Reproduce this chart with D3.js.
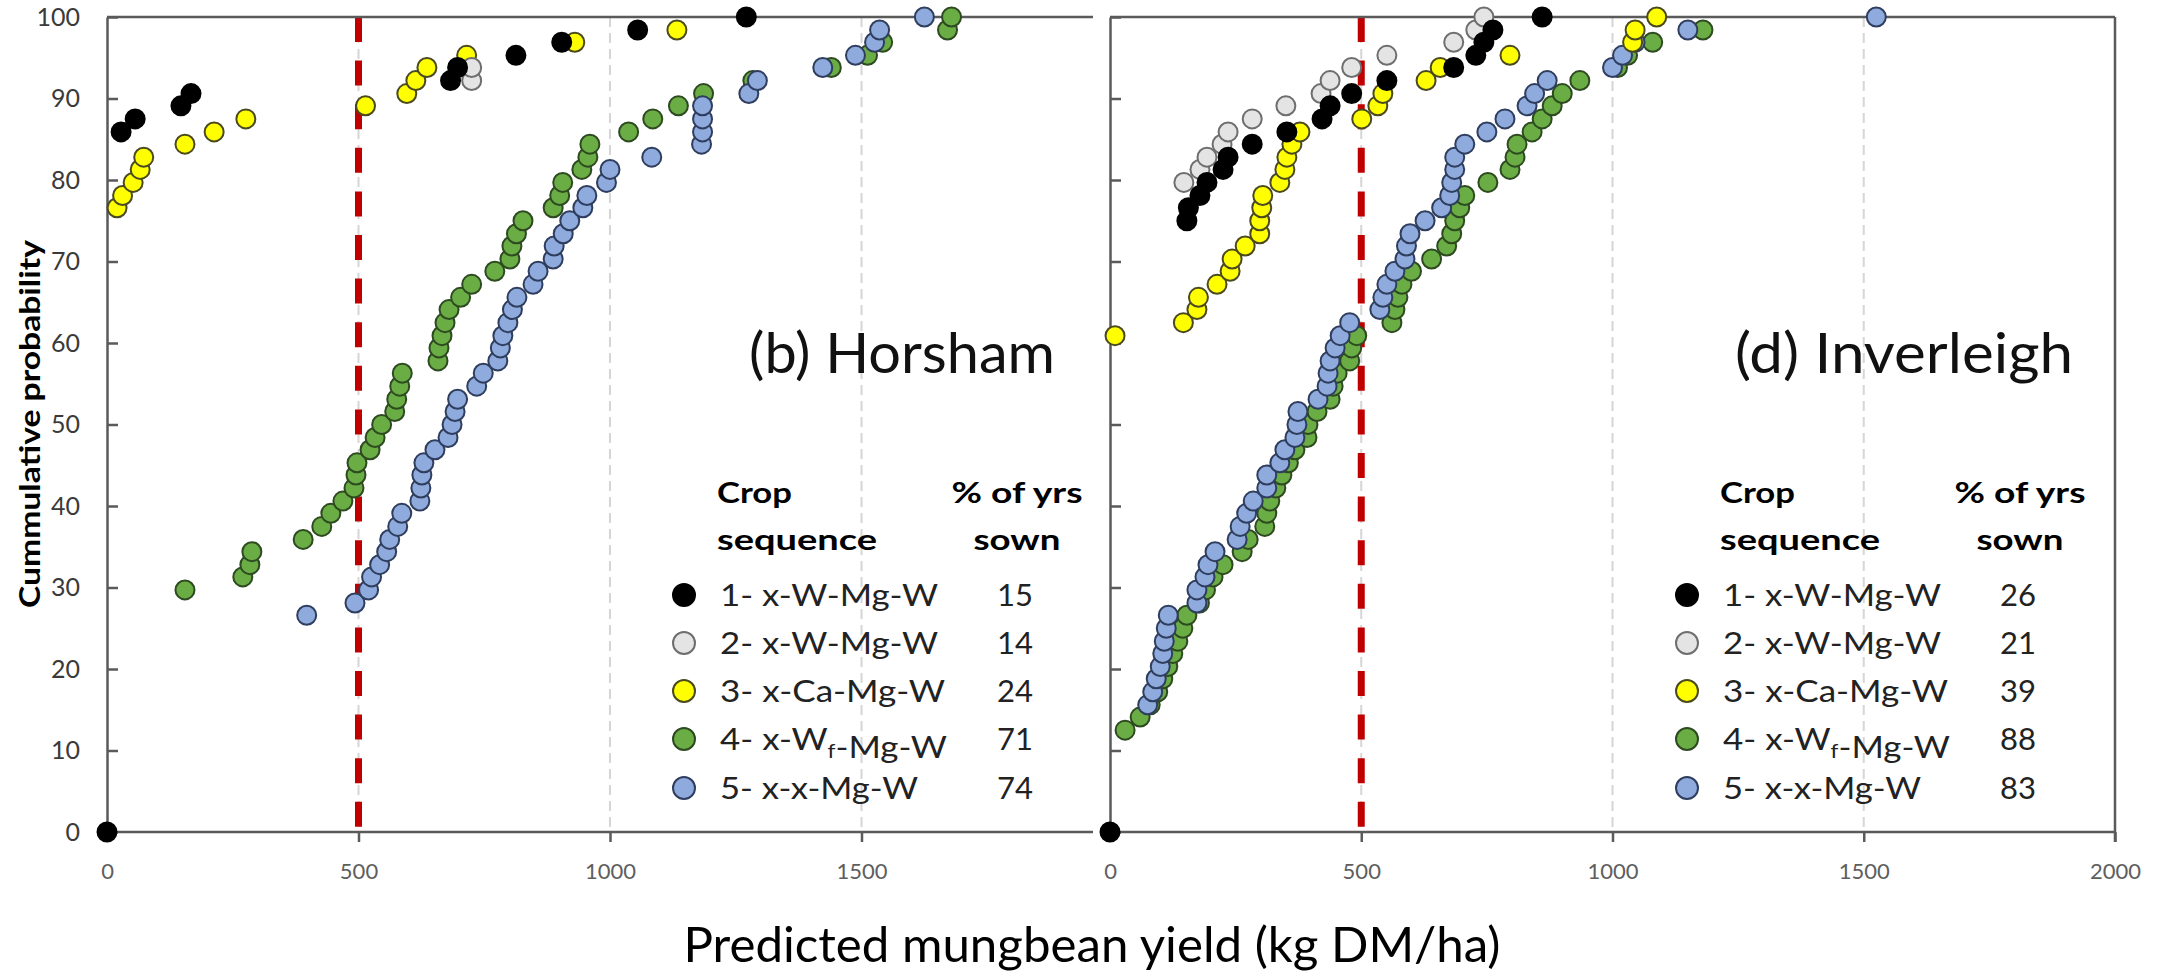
<!DOCTYPE html>
<html>
<head>
<meta charset="utf-8">
<script src="https://cdn.jsdelivr.net/npm/d3@7"></script>
<style>
  html, body { margin: 0; padding: 0; background: #ffffff; }
  svg { display: block; }
  text { font-family: Lato, "Open Sans", "Noto Sans", sans-serif; }
</style>
</head>
<body>
<svg id="chart" width="2163" height="979"></svg>
<script>
// ---------------- DATA ----------------
// [predicted yield (kg DM/ha), cumulative probability (%)]
const horsham1 = [[0,0],[28,85.9],[56,87.5],[147,89.1],[167,90.6],[683,92.2],[697,93.8],[813,95.3],[904,96.9],[1055,98.4],[1271,100]];
const horsham2 = [[725,92.2],[725,93.8]];
const horsham3 = [[20,76.6],[31,78.1],[52,79.7],[66,81.3],[73,82.8],[155,84.4],[213,85.9],[276,87.5],[514,89.1],[596,90.6],[614,92.2],[636,93.8],[715,95.3],[930,96.9],[1133,98.4]];
const horsham4 = [[155,29.7],[270,31.3],[284,32.8],[288,34.4],[390,35.9],[427,37.5],[445,39.1],[469,40.6],[491,42.2],[495,43.8],[497,45.3],[523,46.9],[533,48.4],[546,50.0],[572,51.6],[576,53.1],[582,54.7],[587,56.3],[658,57.8],[660,59.4],[666,60.9],[672,62.5],[680,64.1],[703,65.6],[725,67.2],[771,68.8],[801,70.3],[805,71.9],[814,73.4],[827,75.0],[887,76.6],[900,78.1],[906,79.7],[944,81.3],[956,82.8],[960,84.4],[1037,85.9],[1085,87.5],[1136,89.1],[1186,90.6],[1284,92.2],[1440,93.8],[1512,95.3],[1542,96.9],[1671,98.4],[1679,100]];
const horsham5 = [[397,26.6],[493,28.1],[520,29.7],[526,31.3],[542,32.8],[556,34.4],[562,35.9],[578,37.5],[586,39.1],[622,40.6],[624,42.2],[626,43.8],[630,45.3],[652,46.9],[678,48.4],[686,50.0],[692,51.6],[697,53.1],[735,54.7],[748,56.3],[777,57.8],[782,59.4],[787,60.9],[797,62.5],[806,64.1],[815,65.6],[847,67.2],[857,68.8],[887,70.3],[889,71.9],[907,73.4],[920,75.0],[946,76.6],[954,78.1],[993,79.7],[1000,81.3],[1083,82.8],[1182,84.4],[1184,85.9],[1184,87.5],[1184,89.1],[1276,90.6],[1293,92.2],[1423,93.8],[1488,95.3],[1526,96.9],[1536,98.4],[1625,100]];

const inverleigh1 = [[0,0],[153,75.0],[156,76.6],[179,78.1],[193,79.7],[225,81.3],[235,82.8],[283,84.4],[352,85.9],[422,87.5],[438,89.1],[481,90.6],[551,92.2],[684,93.8],[728,95.3],[744,96.9],[762,98.4],[860,100]];
const inverleigh2 = [[147,79.7],[179,81.3],[193,82.8],[223,84.4],[235,85.9],[283,87.5],[350,89.1],[420,90.6],[438,92.2],[481,93.8],[551,95.3],[684,96.9],[728,98.4],[744,100]];
const inverleigh3 = [[10,60.9],[146,62.5],[173,64.1],[176,65.6],[213,67.2],[239,68.8],[243,70.3],[269,71.9],[298,73.4],[298,75.0],[302,76.6],[304,78.1],[338,79.7],[348,81.3],[352,82.8],[362,84.4],[378,85.9],[501,87.5],[533,89.1],[543,90.6],[629,92.2],[657,93.8],[796,95.3],[1040,96.9],[1045,98.4],[1088,100]];
const inverleigh4 = [[30,12.5],[60,14.1],[80,15.6],[95,17.2],[105,18.8],[115,20.3],[125,21.9],[135,23.4],[145,25.0],[153,26.6],[178,28.1],[190,29.7],[205,31.3],[225,32.8],[263,34.4],[275,35.9],[308,37.5],[312,39.1],[318,40.6],[330,42.2],[342,43.8],[355,45.3],[368,46.9],[392,48.4],[394,50.0],[412,51.6],[438,53.1],[444,54.7],[452,56.3],[477,57.8],[481,59.4],[491,60.9],[561,62.5],[567,64.1],[573,65.6],[581,67.2],[600,68.8],[640,70.3],[670,71.9],[680,73.4],[686,75.0],[696,76.6],[706,78.1],[752,79.7],[796,81.3],[806,82.8],[810,84.4],[840,85.9],[860,87.5],[880,89.1],[900,90.6],[935,92.2],[1010,93.8],[1030,95.3],[1080,96.9],[1180,98.4]];
const inverleigh5 = [[75,15.6],[85,17.2],[92,18.8],[100,20.3],[105,21.9],[108,23.4],[112,25.0],[116,26.6],[173,28.1],[173,29.7],[189,31.3],[195,32.8],[209,34.4],[253,35.9],[259,37.5],[272,39.1],[285,40.6],[312,42.2],[312,43.8],[338,45.3],[348,46.9],[368,48.4],[372,50.0],[374,51.6],[414,53.1],[432,54.7],[434,56.3],[438,57.8],[448,59.4],[458,60.9],[477,62.5],[537,64.1],[543,65.6],[551,67.2],[567,68.8],[587,70.3],[590,71.9],[597,73.4],[627,75.0],[660,76.6],[676,78.1],[680,79.7],[686,81.3],[686,82.8],[706,84.4],[750,85.9],[786,87.5],[830,89.1],[845,90.6],[870,92.2],[1000,93.8],[1020,95.3],[1045,96.9],[1150,98.4],[1525,100]];

const sequenceLabels = ["1- x-W-Mg-W", "2- x-W-Mg-W", "3- x-Ca-Mg-W", "4- x-W{f}-Mg-W", "5- x-x-Mg-W"];
const horshamPctSown = [15, 14, 24, 71, 74];
const inverleighPctSown = [26, 21, 39, 88, 83];
const panelTitles = ["(b) Horsham", "(d) Inverleigh"];
const yTickValues = [0, 10, 20, 30, 40, 50, 60, 70, 80, 90, 100];
const xTickValuesLeft = [0, 500, 1000, 1500];
const xTickValuesRight = [0, 500, 1000, 1500, 2000];
const thresholdYield = 500;
const gridYields = [500, 1000, 1500];

// ---------------- STYLE ----------------
const fills   = ["#000000", "#e4e4e4", "#ffff00", "#6aad45", "#8faadc"];
const strokes = ["#000000", "#6e6e6e", "#4a4a1e", "#2e4a20", "#2f3e5e"];
const drawOrder = [3, 4, 2, 1, 0];
const axisColor = "#5a5a5a";

const svg = d3.select("#chart");
const y = d3.scaleLinear().domain([0, 100]).range([832, 17]);

const panels = [
  { x: d3.scaleLinear().domain([0, 2000]).range([107, 1113]), right: 1093, border: false,
    data: [horsham1, horsham2, horsham3, horsham4, horsham5], pct: horshamPctSown,
    ticks: xTickValuesLeft, yLabels: true, title: panelTitles[0], titleX: 1055, titleLen: 306, dx: 0 },
  { x: d3.scaleLinear().domain([0, 2000]).range([1110, 2115]), right: 2115, border: true,
    data: [inverleigh1, inverleigh2, inverleigh3, inverleigh4, inverleigh5], pct: inverleighPctSown,
    ticks: xTickValuesRight, yLabels: false, title: panelTitles[1], titleX: 2073, titleLen: 338, dx: 1003 }
];

panels.forEach(p => {
  const g = svg.append("g");
  const x = p.x;
  const x0 = x(0);

  // grid dashed lines
  g.selectAll("line.grid").data(gridYields).join("line")
    .attr("x1", d => x(d)).attr("x2", d => x(d))
    .attr("y1", y(100)).attr("y2", y(0))
    .attr("stroke", "#d6d6d6").attr("stroke-width", 2).attr("stroke-dasharray", "10,6");

  // threshold red dashed line
  g.append("line")
    .attr("x1", x(thresholdYield)).attr("x2", x(thresholdYield))
    .attr("y1", y(100)).attr("y2", y(0))
    .attr("stroke", "#c00000").attr("stroke-width", 7).attr("stroke-dasharray", "25,18.6");

  // frame lines
  g.append("line").attr("x1", x0).attr("x2", p.right).attr("y1", y(100)).attr("y2", y(100))
    .attr("stroke", axisColor).attr("stroke-width", 2.5);
  g.append("line").attr("x1", x0).attr("x2", p.right).attr("y1", y(0)).attr("y2", y(0))
    .attr("stroke", axisColor).attr("stroke-width", 2.5);
  if (p.border) {
    g.append("line").attr("x1", p.right).attr("x2", p.right).attr("y1", y(100)).attr("y2", y(0) + 10)
      .attr("stroke", axisColor).attr("stroke-width", 2.5);
  }

  // x axis
  const xAxis = d3.axisBottom(x).tickValues(p.ticks).tickFormat(d3.format("d"))
    .tickSizeInner(10).tickSizeOuter(0).tickPadding(21);
  const gx = g.append("g").attr("transform", `translate(0,${y(0)})`).call(xAxis);
  gx.select(".domain").remove();
  gx.selectAll(".tick line").attr("stroke", axisColor).attr("stroke-width", 2.5);
  gx.selectAll(".tick text").attr("fill", "#5e5e5e").style("font-size", "22px")
    .style("font-family", "Lato, 'Open Sans', sans-serif");

  // y axis (ticks pointing inward)
  const yAxis = d3.axisLeft(y).tickValues(yTickValues).tickSizeInner(-11).tickSizeOuter(0).tickPadding(27)
    .tickFormat(p.yLabels ? d3.format("d") : () => "");
  const gy = g.append("g").attr("transform", `translate(${x0},0)`).call(yAxis);
  gy.select(".domain").attr("stroke", axisColor).attr("stroke-width", 2.5);
  gy.selectAll(".tick line").attr("stroke", axisColor).attr("stroke-width", 2.5);
  gy.selectAll(".tick text").attr("fill", "#3a3a3a").style("font-size", "25px")
    .style("font-family", "Lato, 'Open Sans', sans-serif");

  // points
  drawOrder.forEach(si => {
    g.append("g").selectAll("circle").data(p.data[si]).join("circle")
      .attr("cx", d => x(d[0])).attr("cy", d => y(d[1])).attr("r", 9.5)
      .attr("fill", fills[si]).attr("stroke", strokes[si]).attr("stroke-width", 2);
  });

  // panel title
  g.append("text").attr("x", p.titleX).attr("y", 373).attr("text-anchor", "end")
    .attr("textLength", p.titleLen).attr("lengthAdjust", "spacingAndGlyphs")
    .style("font-size", "56px").attr("fill", "#111").text(p.title);

  // legend
  const lg = g.append("g").attr("transform", `translate(${p.dx},0)`);
  lg.append("text").attr("x", 717).attr("y", 503).style("font-size", "29px").style("font-weight", "bold")
    .attr("textLength", 75).attr("lengthAdjust", "spacingAndGlyphs").text("Crop");
  lg.append("text").attr("x", 717).attr("y", 550).style("font-size", "29px").style("font-weight", "bold")
    .attr("textLength", 160).attr("lengthAdjust", "spacingAndGlyphs").text("sequence");
  lg.append("text").attr("x", 1017).attr("y", 503).attr("text-anchor", "middle").style("font-size", "29px").style("font-weight", "bold")
    .attr("textLength", 131).attr("lengthAdjust", "spacingAndGlyphs").text("% of yrs");
  lg.append("text").attr("x", 1017).attr("y", 550).attr("text-anchor", "middle").style("font-size", "29px").style("font-weight", "bold")
    .attr("textLength", 87).attr("lengthAdjust", "spacingAndGlyphs").text("sown");

  const rowBase = [606, 654, 702, 750, 799];
  const rowLen = [218, 218, 225, 227, 198];
  sequenceLabels.forEach((lab, i) => {
    lg.append("circle").attr("cx", 684).attr("cy", rowBase[i] - 11).attr("r", 11)
      .attr("fill", fills[i]).attr("stroke", strokes[i]).attr("stroke-width", 2);
    const t = lg.append("text").attr("x", 720).attr("y", rowBase[i]).style("font-size", "31px").attr("fill", "#222")
      .attr("textLength", rowLen[i]).attr("lengthAdjust", "spacingAndGlyphs");
    lab.split(/(\{[^}]*\})/).filter(s => s.length).forEach(part => {
      if (part.startsWith("{")) {
        t.append("tspan").attr("dy", 8).style("font-size", "20px").text(part.slice(1, -1));
        t.append("tspan").attr("dy", -8).text("");
      } else {
        t.append("tspan").text(part);
      }
    });
    lg.append("text").attr("x", 1015).attr("y", rowBase[i]).attr("text-anchor", "middle")
      .style("font-size", "31px").attr("fill", "#222").text(p.pct[i]);
  });
});

// axis titles
svg.append("text").attr("transform", "translate(40,424) rotate(-90)").attr("text-anchor", "middle")
  .style("font-size", "29px").style("font-weight", "bold").attr("textLength", 368).attr("lengthAdjust", "spacingAndGlyphs")
  .text("Cummulative probability");
svg.append("text").attr("x", 1092).attr("y", 962).attr("text-anchor", "middle")
  .style("font-size", "48px").attr("textLength", 817).attr("lengthAdjust", "spacingAndGlyphs")
  .text("Predicted mungbean yield (kg DM/ha)");
</script>
</body>
</html>
